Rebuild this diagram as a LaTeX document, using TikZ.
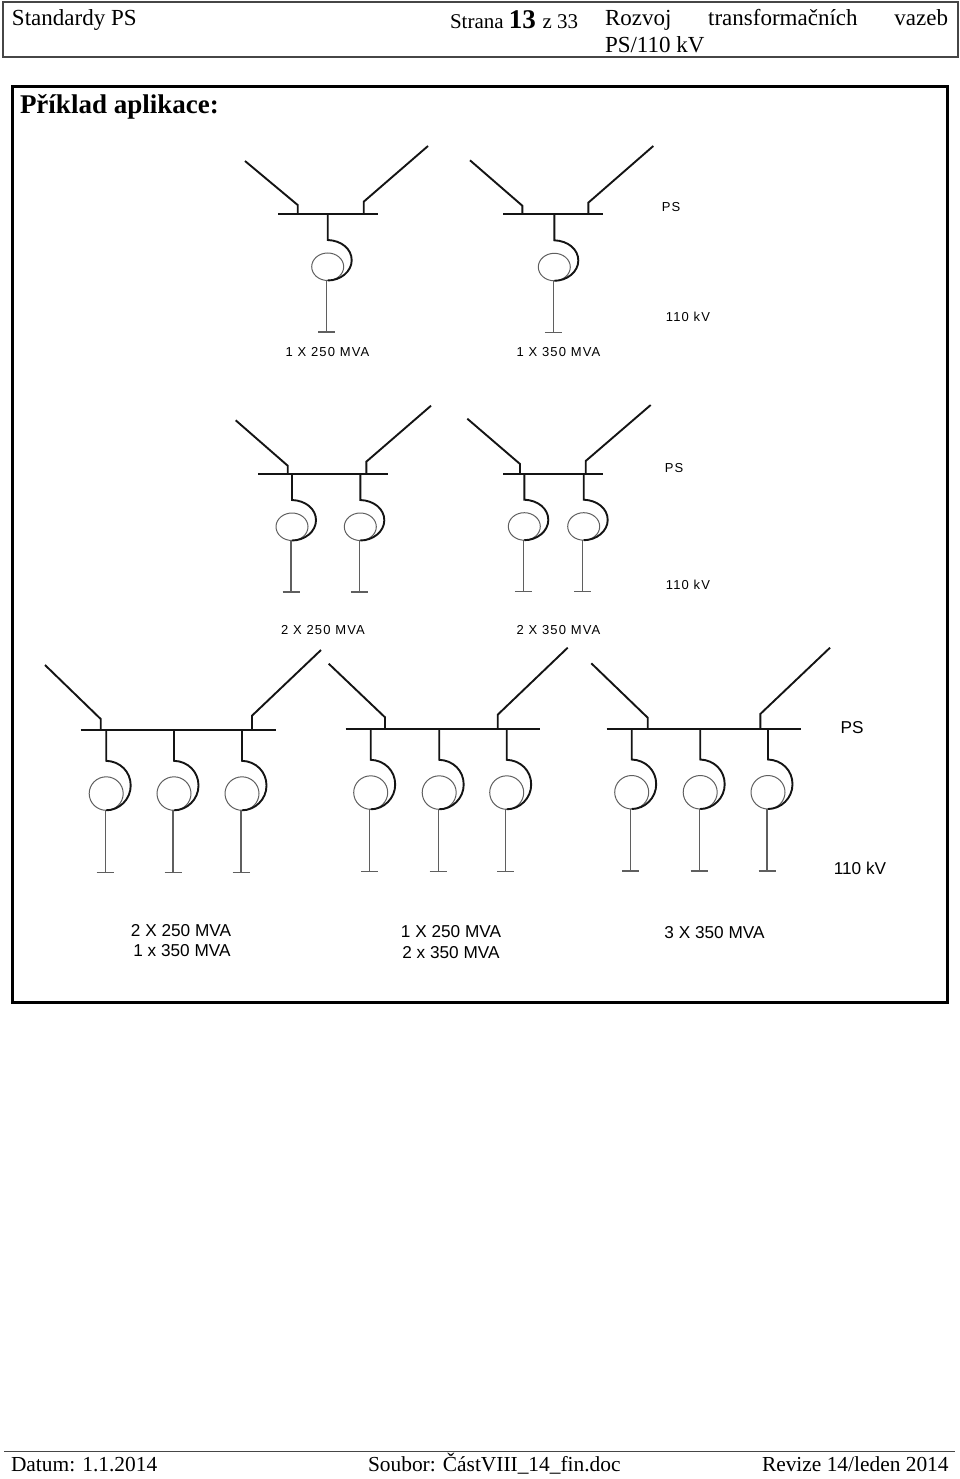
\documentclass[tikz,border=0pt]{standalone}
\usepackage{fontspec}
\usepackage{xcolor}
\usepackage{tikz}
\setmainfont{Liberation Serif}
\setsansfont{Liberation Sans}
\newfontfamily\spacedfont[LetterSpace=9]{Liberation Sans}
\definecolor{framegray}{RGB}{70,70,70}
\definecolor{thingray}{RGB}{95,95,95}
\definecolor{darkline}{RGB}{20,20,20}
\newcommand{\rulerwidth}{343pt}
\usetikzlibrary{shapes.geometric}
\tikzset{
    page/.style={inner sep=0pt, outer sep=0pt},
    head/.style={page, anchor=base west, font=\fontsize{23}{27}\selectfont},
    foot/.style={page, anchor=base west, font=\fontsize{21.4}{25}\selectfont},
    smalltag/.style={page, font=\spacedfont\fontsize{13}{15}\selectfont},
    bigtag/.style={page, font=\sffamily\fontsize{17.2}{20}\selectfont},
    feederline/.style={darkline, line width=1.9pt},
    busline/.style={darkline, line width=1.9pt},
    spiralline/.style={darkline, line width=1.9pt},
    stemline/.style={thingray, line width=1.1pt},
    winding/.style={draw=thingray, ellipse, line width=1pt, inner sep=0pt, outer sep=0pt, anchor=south},
    smallwinding/.style={winding, minimum width=32pt, minimum height=27.5pt},
    bigwinding/.style={winding, minimum width=34pt, minimum height=33.5pt}
}

\begin{document}
\begin{tikzpicture}[x=1pt, y=-1pt]
      % name, x, bus y, top, bottom, ground, bulge, winding style
      \newcommand\trafo[8]{
        \coordinate (#1-bus) at (#2,#3);
        \coordinate (#1-top) at (#2,{#3+#4});
        \coordinate (#1-right) at ({#2+#7},{#3+(#4+#5)/2});
        \coordinate (#1-low) at (#2,{#3+#5});
        \coordinate (#1-stem) at ({#2-1},{#3+#5});
        \coordinate (#1-foot) at ({#2-1},{#3+#6});
        \coordinate (#1-foot-w) at ({#2-9.5},{#3+#6});
        \coordinate (#1-foot-e) at ({#2+7.5},{#3+#6});
        \node[#8] (#1-coil) at (#1-low) {};
        \draw[spiralline] (#1-bus) -- (#1-top)
          .. controls ({#2+.57*#7},{#3+#4+.5}) and ({#2+#7},{#3+#4+.22*(#5-#4)}) .. (#1-right)
          .. controls ({#2+#7},{#3+#4+.78*(#5-#4)}) and ({#2+.53*#7},{#3+#5}) .. (#1-low);
        \draw[stemline] (#1-stem) -- (#1-foot);
        \draw[stemline] (#1-foot-w) -- (#1-foot-e);
      }
      \newcommand\smalltrafo[3]{\trafo{#1}{#2}{#3}{26}{66.5}{118}{24}{smallwinding}}
      \newcommand\bigtrafo[3]{\trafo{#1}{#2}{#3}{30.5}{80}{142}{24.5}{bigwinding}}

      \newcommand\busbar[4]{
        \coordinate (#1-w) at (#2,#4);
        \coordinate (#1-e) at (#3,#4);
        \draw[busline] (#1-w) -- (#1-e);
      }
      % name, end x, end y, knee x, knee y, bus
      \newcommand\feeder[6]{
        \coordinate (#1-end) at (#2,#3);
        \coordinate (#1-knee) at (#4,#5);
        \draw[feederline] (#1-end) -- (#1-knee) -- (#1-knee |- #6-w);
      }

      \useasboundingbox (0,0) rectangle (960,1479);

      % header and frame
      \draw[framegray, line width=1.5pt] (3,2) rectangle (958,57);
      \draw[black, line width=3pt] (12,87) rectangle (947,1002);
      \node[head] (std) at (12,26) {Standardy PS};
      \node[head] (page-no) at (450,29) {\fontsize{21}{24}\selectfont Strana \fontsize{27}{30}\selectfont\textbf{13} \fontsize{21}{24}\selectfont z 33};
      \node[head, text width=\rulerwidth] (title-a) at (605,26) {Rozvoj\hfill transformačních\hfill vazeb};
      \node[head] (title-b) at (605,52.5) {PS/110 kV};
      \node[head, font=\fontsize{27}{30}\selectfont\bfseries] (example) at (20,114) {Příklad aplikace:};

      % row one
      \busbar{a}{278}{378}{214}
      \feeder{a-l}{245}{161}{297.7}{205}{a}
      \feeder{a-r}{428}{146}{363.7}{201.7}{a}
      \smalltrafo{a-1}{327.7}{214}

      \busbar{b}{503.3}{603.3}{214.3}
      \feeder{b-l}{470}{160.3}{522.3}{205.7}{b}
      \feeder{b-r}{653.3}{146}{588.3}{202.7}{b}
      \smalltrafo{b-1}{554.3}{214.3}

      \node[smalltag] (a-tag) at (327.5,352) {1 X 250 MVA};
      \node[smalltag] (b-tag) at (558.5,352) {1 X 350 MVA};
      \node[smalltag] (ps-1) at (671,207) {PS};
      \node[smalltag] (kv-1) at (688,317) {110 kV};

      % row two
      \busbar{c}{258}{387.7}{474}
      \feeder{c-l}{235.7}{420.3}{287.7}{465.7}{c}
      \feeder{c-r}{431}{405.7}{366.3}{461.7}{c}
      \smalltrafo{c-1}{292}{474}
      \smalltrafo{c-2}{360.3}{474}

      \busbar{d}{503.3}{603.3}{473.7}
      \feeder{d-l}{467.3}{418.7}{520}{464}{d}
      \feeder{d-r}{650.7}{405}{585.7}{461}{d}
      \smalltrafo{d-1}{524.3}{473.7}
      \smalltrafo{d-2}{583.7}{473.7}

      \node[smalltag] (c-tag) at (323,630) {2 X 250 MVA};
      \node[smalltag] (d-tag) at (558.5,630) {2 X 350 MVA};
      \node[smalltag] (ps-2) at (674,468) {PS};
      \node[smalltag] (kv-2) at (688,585) {110 kV};

      % row three
      \busbar{e}{80.7}{275.7}{730.3}
      \feeder{e-l}{45}{665}{100.7}{719}{e}
      \feeder{e-r}{321}{650}{252}{715.7}{e}
      \bigtrafo{e-1}{106.2}{730.3}
      \bigtrafo{e-2}{174}{730.3}
      \bigtrafo{e-3}{242}{730.3}

      \busbar{f}{345.7}{540.3}{729.3}
      \feeder{f-l}{328.7}{663.7}{385}{717.3}{f}
      \feeder{f-r}{567.7}{647.7}{497.7}{714.7}{f}
      \bigtrafo{f-1}{370.7}{729.3}
      \bigtrafo{f-2}{439.2}{729.3}
      \bigtrafo{f-3}{506.7}{729.3}

      \busbar{g}{606.7}{801.3}{729}
      \feeder{g-l}{591.3}{663.3}{647.7}{717.7}{g}
      \feeder{g-r}{830}{647.7}{760.3}{714}{g}
      \bigtrafo{g-1}{631.7}{729}
      \bigtrafo{g-2}{700.2}{729}
      \bigtrafo{g-3}{768}{729}

      \node[bigtag] (e-tag-a) at (181,931) {2 X 250 MVA};
      \node[bigtag] (e-tag-b) at (182,951) {1 x 350 MVA};
      \node[bigtag] (f-tag-a) at (451,932) {1 X 250 MVA};
      \node[bigtag] (f-tag-b) at (451,952.5) {2 x 350 MVA};
      \node[bigtag] (g-tag) at (714.5,933) {3 X 350 MVA};
      \node[bigtag] (ps-3) at (852,728) {PS};
      \node[bigtag] (kv-3) at (860,868) {110 kV};

      % footer
      \coordinate (rule-w) at (4,1451);
      \coordinate (rule-e) at (955,1451);
      \draw[framegray, line width=1pt] (rule-w) -- (rule-e);
      \node[foot] (date) at (11,1471.5) {Datum: 1.1.2014};
      \node[foot] (file) at (368,1471.5) {Soubor: ČástVIII\_14\_fin.doc};
      \node[foot] (rev) at (762,1471.5) {Revize 14/leden 2014};
\end{tikzpicture}
\end{document}
